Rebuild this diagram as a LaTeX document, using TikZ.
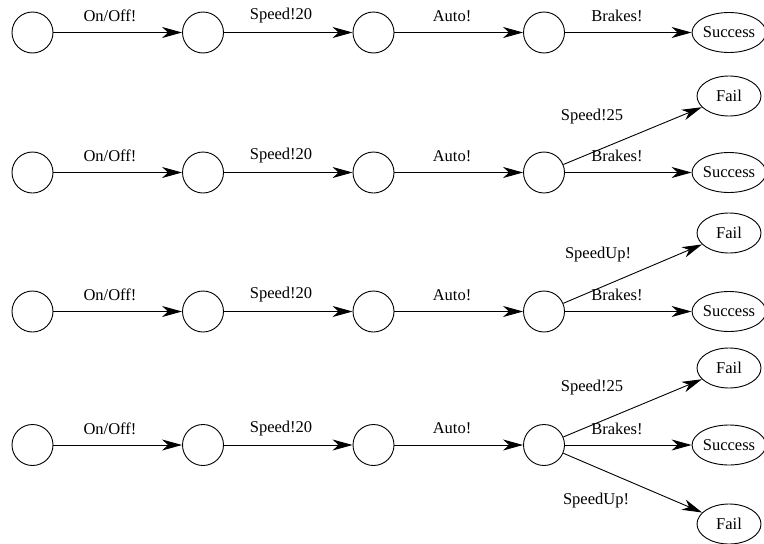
\documentclass[tikz,border=0pt]{standalone}
\usepackage{fontspec}
\setmainfont{Liberation Serif}
\usetikzlibrary{arrows.meta,shapes.geometric}
\begin{document}
\begin{tikzpicture}[x=1pt,y=-1pt,
  state/.style={draw,circle,minimum size=41pt,inner sep=0pt,line width=0.9pt},
  final/.style={draw,ellipse,minimum width=64pt,minimum height=40pt,inner sep=0pt,line width=0.9pt,font=\fontsize{16.5}{19}\selectfont},
  edge/.style={line width=0.9pt,-{Stealth[length=20pt,width=11pt,inset=6pt]}},
  lbl/.style={inner sep=0pt,font=\fontsize{16.5}{19}\selectfont}]
\useasboundingbox (0,0) rectangle (764,544);
\foreach \r/\y in {a/32.5,b/172.5,c/311.5,d/445}{
  \node[state] (\r1) at (32.5,\y) {};
  \node[state] (\r2) at (203,\y) {};
  \node[state] (\r3) at (373.5,\y) {};
  \node[state] (\r4) at (544,\y) {};
  \node[final] (\r s) at (729,\y) {Success};
  \draw[edge] (\r1) -- (\r2);
  \draw[edge] (\r2) -- (\r3);
  \draw[edge] (\r3) -- (\r4);
  \draw[edge] (\r4) -- (\r s);
  \pgfmathsetmacro{\ly}{\y-16.5}
  \node[lbl] (\r l1) at (110,\ly) {On/Off!};
  \node[lbl] (\r l2) at (281,\ly) {Speed!20};
  \node[lbl] (\r l3) at (452,\ly) {Auto!};
  \node[lbl] (\r l4) at (617,\ly) {Brakes!};
}
\node[final] (bf) at (729,96) {Fail};
\draw[edge] (b4) -- (bf);
\node[lbl] (bl5) at (592,117) {Speed!25};
\node[final] (cf) at (729,233) {Fail};
\draw[edge] (c4) -- (cf);
\node[lbl] (cl5) at (598,255) {SpeedUp!};
\node[final] (df1) at (729,368) {Fail};
\draw[edge] (d4) -- (df1);
\node[lbl] (dl5) at (592,388) {Speed!25};
\node[final] (df2) at (729,524) {Fail};
\draw[edge] (d4) -- (df2);
\node[lbl] (dl6) at (596,501) {SpeedUp!};
\end{tikzpicture}
\end{document}
